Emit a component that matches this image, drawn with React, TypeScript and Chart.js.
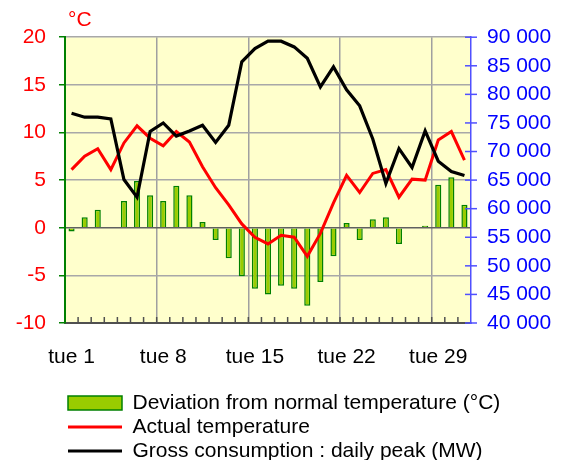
import React, { useEffect, useRef } from "react";
import { Chart, registerables } from "chart.js";

Chart.register(...registerables);

const days = [1, 2, 3, 4, 5, 6, 7, 8, 9, 10, 11, 12, 13, 14, 15, 16, 17, 18, 19, 20, 21, 22, 23, 24, 25, 26, 27, 28, 29, 30, 31];
const tickLabels = ["tue 1", "tue 8", "tue 15", "tue 22", "tue 29"];
const deviation = [-0.4, 1.1, 1.9, 0, 2.8, 4.9, 3.4, 2.8, 4.4, 3.4, 0.6, -1.3, -3.2, -5.1, -6.4, -7.0, -6.1, -6.4, -8.2, -5.7, -3.0, 0.5, -1.3, 0.9, 1.1, -1.7, 0, 0.2, 4.5, 5.3, 2.4];
const actualTemp = [6.1, 7.5, 8.3, 6.1, 8.9, 10.7, 9.4, 8.6, 10.1, 9.0, 6.4, 4.2, 2.4, 0.4, -1.0, -1.7, -0.8, -1.0, -3.0, -0.6, 2.6, 5.5, 3.7, 5.7, 6.1, 3.2, 5.1, 5.0, 9.2, 10.1, 7.1];
const consumption = [76700, 76000, 76000, 75700, 65100, 62000, 73500, 75000, 72700, 73600, 74600, 71600, 74600, 85700, 88000, 89300, 89300, 88300, 86300, 81300, 84800, 80800, 78000, 72200, 64400, 70500, 67200, 73600, 68300, 66500, 65800];

const FONT = "'Liberation Sans', Arial, sans-serif";
const FS = 21;

const fmt = (v: number) => String(v).replace(/\B(?=(\d{3})+(?!\d))/g, " ");

const bgPlugin = {
  id: "plotBg",
  beforeDraw(chart: any) {
    const { ctx, chartArea } = chart;
    ctx.save();
    ctx.fillStyle = "#FFFFCC";
    ctx.fillRect(chartArea.left, chartArea.top, chartArea.right - chartArea.left, chartArea.bottom - chartArea.top);
    ctx.restore();
  },
};

// Align legend and title to the plot's left edge (legend keeps full width so its text is not clipped)
const alignBlocks = {
  id: "alignBlocks",
  afterLayout(chart: any) {
    if (chart.legend) {
      chart.legend.left = chart.chartArea.left;
      chart.legend.height += 20;
      chart.legend.bottom = chart.legend.top + chart.legend.height;
    }
    if (chart.titleBlock) {
      chart.titleBlock.left += 3;
    }
  },
};

const innerTicks = {
  id: "innerTicks",
  afterDraw(chart: any) {
    const { ctx, chartArea } = chart;
    const xs = chart.scales.x;
    const yr = chart.scales.y1;
    ctx.save();
    ctx.lineWidth = 1.5;
    ctx.strokeStyle = "#505050";
    const n = xs.ticks.length;
    for (let k = 1; k < n; k++) {
      const px = (xs.getPixelForTick(k - 1) + xs.getPixelForTick(k)) / 2;
      ctx.beginPath();
      ctx.moveTo(px, chartArea.bottom);
      ctx.lineTo(px, chartArea.bottom - 6);
      ctx.stroke();
    }
    ctx.strokeStyle = "#5050ff";
    yr.ticks.forEach((t: any) => {
      const py = yr.getPixelForValue(t.value);
      ctx.beginPath();
      ctx.moveTo(chartArea.right - 6, py);
      ctx.lineTo(chartArea.right + 6, py);
      ctx.stroke();
    });
    ctx.restore();
  },
};

export default function App() {
  const ref = useRef<HTMLCanvasElement>(null);
  useEffect(() => {
    if (!ref.current) return;
    const chart = new Chart(ref.current, {
      type: "bar",
      data: {
        labels: days.map(String),
        datasets: [
          {
            type: "bar",
            label: "Deviation from normal temperature (°C)",
            data: deviation,
            yAxisID: "y",
            backgroundColor: "#99CC00",
            borderColor: "#008000",
            borderWidth: 1.5,
            barPercentage: 0.9,
            categoryPercentage: 0.52,
            order: 3,
          },
          {
            type: "line",
            label: "Actual temperature",
            data: actualTemp,
            yAxisID: "y",
            borderColor: "#FF0000",
            backgroundColor: "#FF0000",
            borderWidth: 3,
            pointRadius: 0,
            tension: 0,
            order: 2,
          },
          {
            type: "line",
            label: "Gross consumption : daily peak (MW)",
            data: consumption,
            yAxisID: "y1",
            borderColor: "#000000",
            backgroundColor: "#000000",
            borderWidth: 3.2,
            pointRadius: 0,
            tension: 0,
            order: 1,
          },
        ] as any,
      },
      options: {
        animation: false,
        responsive: true,
        maintainAspectRatio: false,
        events: [],
        layout: { padding: { top: 0, left: 0, right: 0, bottom: -3.5 } },
        scales: {
          x: {
            type: "category",
            offset: true,
            grid: {
              offset: true,
              drawTicks: false,
              lineWidth: 1.5,
              color: (ctx: any) => (ctx.index % 7 === 0 ? "#a0a0a0" : "rgba(0,0,0,0)"),
            },
            border: { color: "#505050", width: 2 },
            ticks: {
              autoSkip: false,
              maxRotation: 0,
              color: "#000000",
              font: { family: FONT, size: FS },
              padding: 22,
              callback: (_v: any, i: number) => (i % 7 === 0 ? tickLabels[i / 7] : ""),
            },
            afterFit: (s: any) => {
              s.height = 66.5;
            },
          },
          y: {
            position: "left",
            min: -10,
            max: 20,
            ticks: {
              stepSize: 5,
              color: "#FF0000",
              font: { family: FONT, size: FS },
              padding: 13,
            },
            grid: {
              lineWidth: 1.5,
              tickLength: 6,
              tickColor: "#008000",
              color: (ctx: any) => (ctx.tick && ctx.tick.value === 0 ? "#606060" : "#a8a8a8"),
            },
            border: { color: "#008000", width: 2 },
            afterFit: (s: any) => {
              s.width = 57;
            },
          },
          y1: {
            position: "right",
            min: 40000,
            max: 90000,
            ticks: {
              stepSize: 5000,
              color: "#0000FF",
              font: { family: FONT, size: FS },
              padding: 16,
              callback: (v: any) => fmt(Number(v)),
            },
            grid: { drawOnChartArea: false, drawTicks: false },
            border: { color: "#5050ff", width: 1.5 },
            afterFit: (s: any) => {
              s.width = 87;
            },
          },
        },
        plugins: {
          tooltip: { enabled: false },
          title: {
            display: true,
            text: "°C",
            color: "#FF0000",
            align: "start",
            fullSize: false,
            font: { family: FONT, size: FS, weight: "normal" },
            padding: { top: 0, bottom: 4 },
          },
          legend: {
            position: "bottom",
            align: "start",
            labels: {
              usePointStyle: true,
              pointStyleWidth: 54,
              boxHeight: 14,
              padding: 3,
              color: "#000000",
              font: { family: FONT, size: FS },
              sort: (a: any, b: any) => a.datasetIndex - b.datasetIndex,
              generateLabels: (c: any) => {
                const items = (Chart.defaults.plugins.legend.labels as any).generateLabels(c);
                return items.map((it: any) => ({
                  ...it,
                  pointStyle: it.datasetIndex === 0 ? "rect" : "line",
                }));
              },
            },
          },
        },
      } as any,
      plugins: [bgPlugin, alignBlocks, innerTicks],
    });
    return () => chart.destroy();
  }, []);
  return (
    <div style={{ width: 550, height: 460, marginBottom: -8, position: "relative" }}>
      <canvas ref={ref} />
    </div>
  );
}
